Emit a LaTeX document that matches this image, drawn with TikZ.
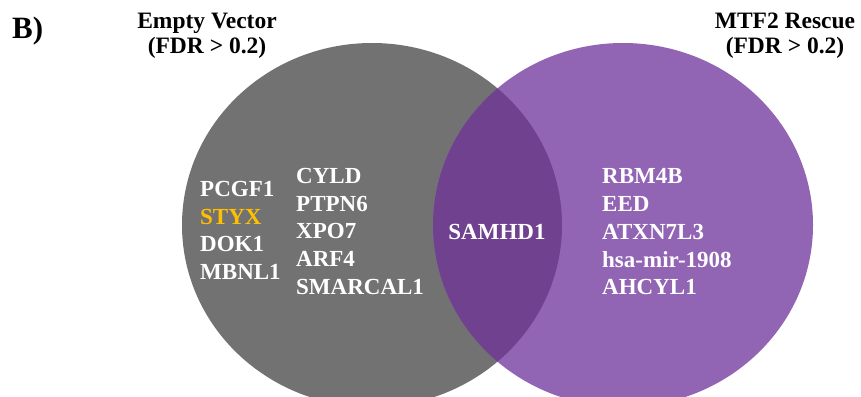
\documentclass[tikz,border=0pt]{standalone}
\usepackage{fontspec}
\setmainfont{Liberation Serif}

\definecolor{evgray}{HTML}{727272}
\definecolor{rescuepurple}{HTML}{9264B4}
\definecolor{sharedpurple}{HTML}{6F418F}
\definecolor{hitgold}{HTML}{FFC000}

\begin{document}
\begin{tikzpicture}[
    x=1pt, y=-1pt,
    font=\bfseries,
    setlabel/.style={align=center, font=\fontsize{23.5}{25}\selectfont\bfseries},
    gene/.style={anchor=base west, inner sep=0pt, text=white,
                 font=\fontsize{23}{27.6}\selectfont\bfseries},
    panel/.style={anchor=base west, inner sep=0pt,
                  font=\fontsize{31}{31}\selectfont\bfseries},
  ]
  \useasboundingbox (0,0) rectangle (861,396);

  % Two sets: Empty Vector (left) and MTF2 Rescue (right)
  \fill[evgray] (372,225) ellipse [x radius=190, y radius=182];
  \fill[rescuepurple] (623,225) ellipse [x radius=190, y radius=182];

  % Shared region
  \begin{scope}
    \clip (372,225) ellipse [x radius=190, y radius=182];
    \fill[sharedpurple] (623,225) ellipse [x radius=190, y radius=182];
  \end{scope}

  \node[panel] (panel) at (12,38) {B)};
  \node[setlabel] (evtitle) at (207,36) {Empty Vector\\(FDR > 0.2)};
  \node[setlabel] (mtftitle) at (785,36) {MTF2 Rescue\\(FDR > 0.2)};

  % Empty Vector only, first column
  \foreach \g [count=\i from 0] in {PCGF1,{\textcolor{hitgold}{STYX}},DOK1,MBNL1}
    \node[gene] (evA\i) at (200,196.7+27.5*\i) {\g};

  % Empty Vector only, second column
  \foreach \g [count=\i from 0] in {CYLD,PTPN6,XPO7,ARF4,SMARCAL1}
    \node[gene] (evB\i) at (296,183.3+27.7*\i) {\g};

  % Both sets
  \node[gene, anchor=base] (shared) at (497,239) {SAMHD1};

  % MTF2 Rescue only
  \foreach \g [count=\i from 0] in {RBM4B,EED,ATXN7L3,hsa-mir-1908,AHCYL1}
    \node[gene] (mtf\i) at (602,183.3+27.9*\i) {\g};
\end{tikzpicture}
\end{document}
